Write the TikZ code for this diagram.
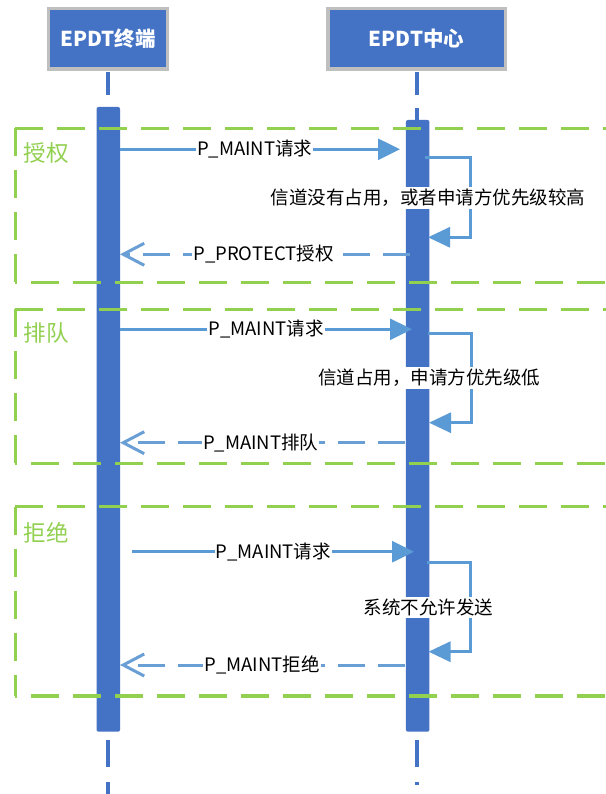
\documentclass[tikz,border=0pt]{standalone}
\usepackage{fontspec}
\setmainfont{Noto Sans CJK SC}
\usetikzlibrary{arrows.meta}
\definecolor{hdrblue}{HTML}{4472C4}
\definecolor{msgblue}{HTML}{5B9BD5}
\definecolor{retblue}{HTML}{6A9FD6}
\definecolor{grpgreen}{HTML}{92D050}
\definecolor{hdrgray}{HTML}{BFBFBF}
\tikzset{
 header/.style={draw=hdrgray, line width=3.3pt, fill=hdrblue, text=white, font=\fontsize{20.5}{22}\selectfont\bfseries, inner sep=0pt, outer sep=0pt},
 actbar/.style={fill=hdrblue, rounded corners=2pt, minimum width=23.5pt, inner sep=0pt, outer sep=0pt, anchor=north},
 lifeline/.style={draw=hdrblue, line width=3.5pt},
 req/.style={draw=msgblue, line width=3pt, -{Triangle[length=22pt,width=21pt]}},
 selfmsg/.style={draw=msgblue, line width=3pt, line join=miter, -{Triangle[length=22pt,width=20pt]}},
 ret/.style={draw=retblue, line width=3pt, dash pattern=on 27pt off 13pt, -{Straight Barb[length=21pt,width=22pt,line width=3pt]}},
 msglabel/.style={fill=white, inner sep=1pt, font=\fontsize{18.5}{20}\selectfont},
 selflabel/.style={fill=white, inner sep=2pt, font=\fontsize{18.5}{20}\selectfont},
 grp/.style={draw=grpgreen, line width=3.5pt, dash pattern=on 28pt off 14pt},
 grpbot/.style={grp, dash phase=26pt},
 grplabel/.style={text=grpgreen, font=\fontsize{22.5}{24}\selectfont, anchor=west, inner sep=0pt},
}
\begin{document}
\begin{tikzpicture}[x=1pt,y=-1pt]
\useasboundingbox[fill=white] (0,0) rectangle (605,794);
% headers
\node[header, minimum width=119.3pt, minimum height=60.7pt] (hL) at (108,38.7) {EPDT终端};
\node[header, minimum width=177.3pt, minimum height=60.7pt] (hR) at (416.65,38.7) {EPDT中心};
% lifelines
\coordinate (lL1) at (108,72); \coordinate (lL2) at (108,95);
\coordinate (lR1) at (417,72); \coordinate (lR2) at (417,95);
\coordinate (lR3) at (417,108); \coordinate (lR4) at (417,122);
\draw[lifeline] (lL1) -- (lL2);
\draw[lifeline] (lR1) -- (lR2);
\draw[lifeline] (lR3) -- (lR4);
\coordinate (bL1) at (108,740); \coordinate (bL2) at (108,767);
\coordinate (bL3) at (108,782); \coordinate (bL4) at (108,800);
\coordinate (bR1) at (417,740); \coordinate (bR2) at (417,767);
\coordinate (bR3) at (417,782); \coordinate (bR4) at (417,785);
\draw[lifeline] (bL1) -- (bL2);
\draw[lifeline] (bL3) -- (bL4);
\draw[lifeline] (bR1) -- (bR2);
\draw[lifeline] (bR3) -- (bR4);
% activation bars
\node[actbar, minimum height=624.7pt] (barL) at (108.3,107) {};
\node[actbar, minimum height=611.7pt] (barR) at (417.7,120) {};
% groups
\foreach \t/\b/\n in {128.3/282.7/a, 309.3/463.3/b, 506.7/696/c}{
  \coordinate (g\n tl) at (15.4,\t);
  \coordinate (g\n bl) at (15.4,\b);
  \coordinate (g\n tr) at (612,\t);
  \coordinate (g\n br) at (612,\b);
  \draw[grp] (g\n tl) -- (g\n bl);
  \draw[grp] (g\n tl) -- (g\n tr);
  \draw[grpbot] (g\n bl) -- (g\n br);
}
\node[grplabel] (ga) at (23.5,153) {授权};
\node[grplabel] (gb) at (23.5,333) {排队};
\node[grplabel] (gc) at (23.5,532.7) {拒绝};
% section 1
\coordinate (r1a) at (120,149.3); \coordinate (r1b) at (400,149.3);
\draw[req] (r1a) -- (r1b);
\node[msglabel] (r1l) at (254.6,149.3) {P\_MAINT请求};
\coordinate (s1a) at (425,157.7); \coordinate (s1b) at (470,157.7);
\coordinate (s1c) at (470,237.3); \coordinate (s1d) at (428,237.3);
\draw[selfmsg] (s1a) -- (s1b) -- (s1c) -- (s1d);
\node[selflabel] (s1l) at (428,198) {信道没有占用，或者申请方优先级较高};
\coordinate (t1a) at (410,254.3); \coordinate (t1b) at (120,254.3);
\draw[ret] (t1a) -- (t1b);
\node[msglabel] (t1l) at (263.5,254.3) {P\_PROTECT授权};
% section 2
\coordinate (r2a) at (120,329.3); \coordinate (r2b) at (412,329.3);
\draw[req] (r2a) -- (r2b);
\node[msglabel] (r2l) at (266,329.3) {P\_MAINT请求};
\coordinate (s2a) at (428,333.3); \coordinate (s2b) at (471,333.3);
\coordinate (s2c) at (471,422.7); \coordinate (s2d) at (429,422.7);
\draw[selfmsg] (s2a) -- (s2b) -- (s2c) -- (s2d);
\node[selflabel] (s2l) at (429,378) {信道占用，申请方优先级低};
\coordinate (t2a) at (405,442.7); \coordinate (t2b) at (120,442.7);
\draw[ret] (t2a) -- (t2b);
\node[msglabel] (t2l) at (260.6,442.7) {P\_MAINT排队};
% section 3
\coordinate (r3a) at (132,551.7); \coordinate (r3b) at (414,551.7);
\draw[req] (r3a) -- (r3b);
\node[msglabel] (r3l) at (273.3,551.7) {P\_MAINT请求};
\coordinate (s3a) at (426.6,562.7); \coordinate (s3b) at (470,562.7);
\coordinate (s3c) at (470,651.7); \coordinate (s3d) at (428.5,651.7);
\draw[selfmsg] (s3a) -- (s3b) -- (s3c) -- (s3d);
\node[selflabel] (s3l) at (428.6,607.3) {系统不允许发送};
\coordinate (t3a) at (405,665); \coordinate (t3b) at (120,665);
\draw[ret] (t3a) -- (t3b);
\node[msglabel] (t3l) at (262,665) {P\_MAINT拒绝};
\end{tikzpicture}
\end{document}
